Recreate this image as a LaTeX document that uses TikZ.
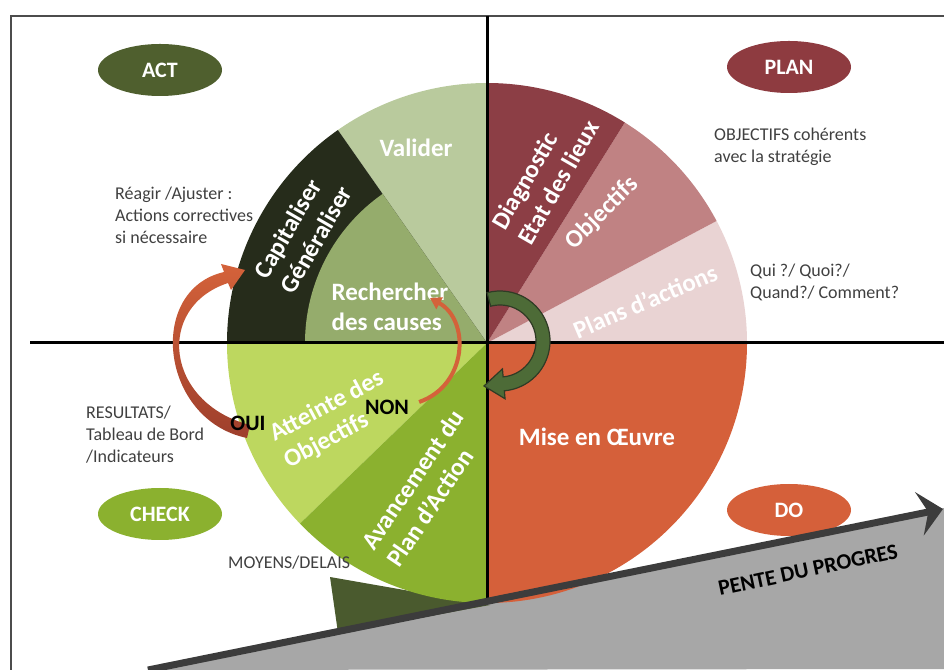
\documentclass[tikz,border=0pt]{standalone}
\usepackage{fontspec}
\setmainfont{Carlito}
\usetikzlibrary{arrows.meta,shapes.geometric}

\definecolor{actcol}{HTML}{4F5F2E}
\definecolor{plancol}{HTML}{8E3B40}
\definecolor{checkcol}{HTML}{8BB12F}
\definecolor{docol}{HTML}{D5603A}
\definecolor{diagcol}{HTML}{8C3E45}
\definecolor{objcol}{HTML}{C08283}
\definecolor{plansactcol}{HTML}{E9D3D3}
\definecolor{validcol}{HTML}{B9CA9D}
\definecolor{causecol}{HTML}{95AC6C}
\definecolor{capitcol}{HTML}{262C1B}
\definecolor{atteintecol}{HTML}{BDD75F}
\definecolor{avancecol}{HTML}{8BB12F}
\definecolor{wedgecol}{HTML}{4A5A2E}
\definecolor{cyclecol}{HTML}{4D6B37}
\definecolor{cycleline}{HTML}{2F3B25}
\definecolor{slopecol}{HTML}{A7A7A7}
\definecolor{slopeline}{HTML}{3C3C3C}
\definecolor{notecol}{HTML}{404040}
\definecolor{arrowcol}{HTML}{D4623A}
\definecolor{arrowdark}{HTML}{9E3F2C}

\begin{document}
\begin{tikzpicture}[x=1pt,y=1pt,>={Triangle[length=11pt,width=13pt]}]

  \tikzstyle{phase}=[ellipse,minimum width=124pt,minimum height=52pt,inner sep=0pt,text=white,font=\fontsize{22}{26}\selectfont\bfseries]
  \tikzstyle{sector}=[inner sep=0pt,align=left,text=white,font=\fontsize{25}{30}\selectfont\bfseries]
  \tikzstyle{note}=[inner sep=0pt,anchor=west,align=left,text=notecol,font=\fontsize{18}{22}\selectfont]
  \tikzstyle{answer}=[inner sep=0pt,text=black,font=\fontsize{22}{26}\selectfont\bfseries]
  \tikzstyle{quadline}=[line width=3pt,black]

  \useasboundingbox (0,0) rectangle (944,669);
  \clip (0,0) rectangle (944,669);

  \draw [line width=1.5pt,black!70] (11,-10) rectangle (960,653);

  \fill [slopecol] (148,-1) -- (944,161) -- (944,0) -- cycle;
  \fill [wedgecol] (330,92) -- (490,64) -- (338,36) -- cycle;

  \begin{scope}[shift={(487,326)}]
    \foreach \from/\to/\col in {-90/0/docol, 0/28/plansactcol, 28/58/objcol, 58/90/diagcol,
                                90/125/validcol, 125/180/capitcol, 180/224/atteintecol, 224/270/avancecol}
      \fill [\col] (0,0) -- (\from:260) arc[start angle=\from,end angle=\to,radius=260] -- cycle;
    \fill [causecol] (0,0) -- (125:182) arc[start angle=125,end angle=180,radius=182] -- cycle;

    \node [sector]           (valider)   at (-71,195)  {Valider};
    \node [sector]           (recherche) at (-97,36)   {Rechercher\\des causes};
    \node [sector,rotate=60] (capital)   at (-184,111) {Capitaliser\\Généraliser};
    \node [sector,rotate=60] (diag)      at (58,168)   {Diagnostic\\Etat des lieux};
    \node [sector,rotate=45] (objectifs) at (115,130)  {Objectifs};
    \node [sector,rotate=23] (plansact)  at (158,42)   {Plans d’actions};
    \node [sector]           (mise)      at (110,-94)  {Mise en Œuvre};
    \node [sector,rotate=28] (atteinte)  at (-153,-77) {Atteinte des\\Objectifs};
    \node [sector,rotate=56] (avance)    at (-62,-145) {Avancement du\\Plan d’Action};
    \node [answer]           (non)       at (-100,-64) {NON};
  \end{scope}

  \draw [quadline] (30,326) -- (944,326);
  \draw [quadline] (487,653) -- (487,68);

  \begin{scope}[shift={(500,328)}]
    \filldraw [fill=cyclecol,draw=cycleline,line width=1.2pt]
      (105:50) arc[start angle=105,end angle=-85,radius=50] -- (-85:58) -- (-16,-45)
      -- (-85:28) -- (-85:36) arc[start angle=-85,end angle=105,radius=36] -- cycle;
  \end{scope}

  \shade [top color=arrowcol,bottom color=arrowdark]
    (247,231) .. controls (160,249) and (146,379) .. (224,397)
    -- (221,405) -- (245,399) -- (231,379) -- (228,386)
    .. controls (155,362) and (165,266) .. (250,244) -- cycle;

  \coordinate (causes) at (430,371);
  \draw [line width=4pt,arrowcol,->] ([xshift=10pt,yshift=5pt]non.east) .. controls (468,284) and (470,349) .. (causes);

  \node [answer] (oui) at (248,246) {OUI};

  \node [phase,fill=actcol]   (act)   at (160,599) {ACT};
  \node [phase,fill=plancol]  (plan)  at (789,602) {PLAN};
  \node [phase,fill=checkcol] (check) at (160,155) {CHECK};
  \node [phase,fill=docol]    (do)    at (789,159) {DO};

  \node [note] (reagir)    at (115,454) {Réagir /Ajuster :\\Actions correctives\\si nécessaire};
  \node [note] (coherent)  at (714,522) {OBJECTIFS cohérents\\avec la stratégie};
  \node [note] (quiquoi)   at (750,387) {Qui ?/ Quoi?/\\Quand?/ Comment?};
  \node [note] (resultats) at (86,234)  {RESULTATS/\\Tableau de Bord\\/Indicateurs};
  \node [note] (moyens)    at (228,106) {MOYENS/DELAIS};

  \draw [line width=7pt,slopeline,-{Stealth[length=24pt,width=44pt,inset=9pt]}] (148,-1) -- (943,160);
  \node [rotate=12,inner sep=0pt,font=\fontsize{22}{26}\selectfont\bfseries] (pente) at (808,99) {PENTE DU PROGRES};

\end{tikzpicture}
\end{document}
